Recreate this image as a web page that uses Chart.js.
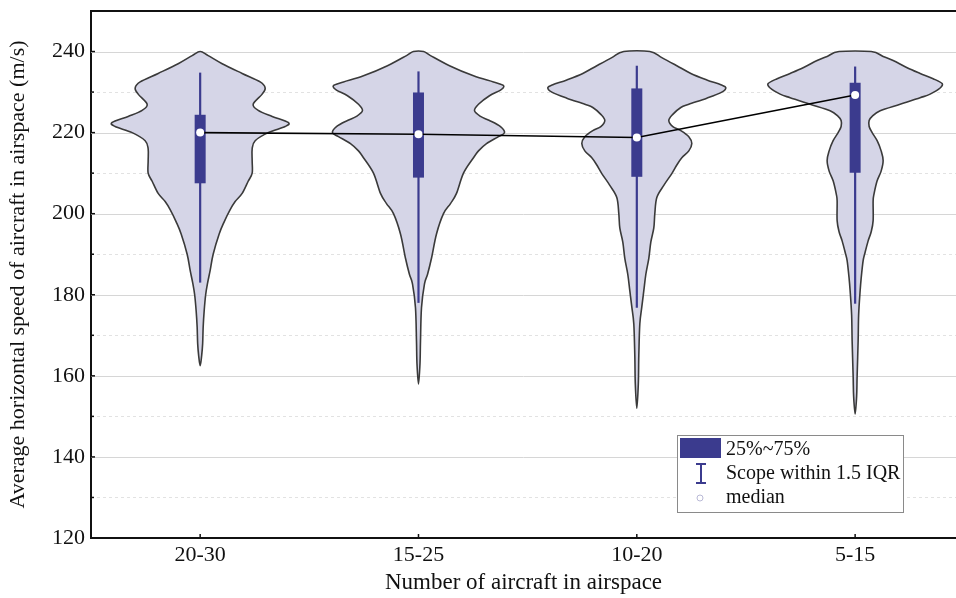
<!DOCTYPE html>
<html>
<head>
<meta charset="utf-8">
<script src="https://cdn.jsdelivr.net/npm/chart.js@4.4.1/dist/chart.umd.min.js"></script>
<style>
  html, body { margin: 0; padding: 0; background: #fff; }
</style>
</head>
<body>
<canvas id="violinChart" width="956" height="598"></canvas>
<script>
const categories = ['20-30', '15-25', '10-20', '5-15'];
const medians = [220, 219.6, 218.8, 229.3];
const q1 = [207.5, 208.9, 209.1, 210.1];
const q3 = [224.4, 229.9, 230.9, 232.3];
const whiskerLow = [183, 178, 176.8, 177.8];
const whiskerHigh = [234.8, 235.1, 236.5, 236.3];

// violin outlines: speed levels (top -> bottom) and relative density at each level
const speeds1 = [240, 239, 237, 234.6, 232.5, 231, 229.5, 227, 225.5, 224, 222.5, 221.5, 220, 218, 216, 213, 210, 208, 205, 203, 201, 198, 195, 190, 186, 183, 180, 176, 172, 168, 165, 162.5];
const density1 = [0, 8, 22, 42, 60, 65, 62, 53, 58, 72, 88, 85, 68, 55, 52, 52, 52, 48, 42, 35, 30, 24, 19, 13, 10, 7.5, 5.5, 4, 3, 2.5, 1.5, 0];
const speeds2 = [240, 239, 236.5, 234, 232.5, 231.6, 230.5, 229.1, 227, 225.4, 224, 223, 221.5, 220, 219, 217.3, 215.5, 213.8, 210, 205, 202.5, 200, 195, 189, 185, 182.7, 176.8, 168.6, 163, 158];
const density2 = [5, 12, 31, 55, 75, 85, 82, 71, 60, 56, 62, 71, 82, 86, 80, 68, 60, 55, 45, 38, 32, 25, 18, 13, 9, 6, 3, 2, 1.5, 0];
const speeds3 = [240, 238.5, 236.5, 234.6, 233, 231.8, 231.1, 230, 228.5, 227, 226.2, 224.5, 223, 221.5, 220.5, 219, 217.3, 215.5, 213.8, 212, 209.9, 207, 204, 200, 196.5, 193, 189, 185, 181, 177, 172.8, 165, 158, 152];
const density3 = [13, 25, 40, 54, 70, 84, 89, 85, 70, 52, 44, 36, 32, 36, 44, 52, 55, 52, 45, 40, 35, 27, 20, 18, 17, 14, 12, 9, 7, 5, 3, 2, 1.5, 0];
const speeds4 = [240, 238.8, 237.8, 236, 234.6, 233.3, 232.1, 231, 229.5, 228.6, 227, 225.4, 224, 223, 221.5, 220, 218, 215.5, 213.1, 210.5, 208.1, 205, 203.2, 198.3, 195.5, 193.3, 190.5, 188.4, 184, 181, 175, 168.6, 160, 155, 150.6];
const density4 = [16, 28, 38, 52, 65, 78, 87, 85, 75, 65, 45, 25, 17, 14, 14, 17, 22, 26, 28, 26, 22, 19, 18, 18, 16, 13, 10, 8, 6, 5, 3.5, 3, 2, 1.5, 0];

const violinSpeeds = [speeds1, speeds2, speeds3, speeds4];
const violinDensity = [density1, density2, density3, density4];

const legendLabels = ['25%~75%', 'Scope within 1.5 IQR', 'median'];

const serif = "'Liberation Serif', 'Times New Roman', serif";
const boxColor = '#3b3b8e';
const violinFill = '#d5d5e7';
const densityToWidth = 1 / 218.3;

function smoothClosedPath(ctx, pts) {
  const n = pts.length;
  ctx.beginPath();
  ctx.moveTo(pts[0][0], pts[0][1]);
  for (let i = 0; i < n; i++) {
    const p0 = pts[(i - 1 + n) % n], p1 = pts[i], p2 = pts[(i + 1) % n], p3 = pts[(i + 2) % n];
    const c1x = p1[0] + (p2[0] - p0[0]) / 6, c1y = p1[1] + (p2[1] - p0[1]) / 6;
    const c2x = p2[0] - (p3[0] - p1[0]) / 6, c2y = p2[1] - (p3[1] - p1[1]) / 6;
    ctx.bezierCurveTo(c1x, c1y, c2x, c2y, p2[0], p2[1]);
  }
  ctx.closePath();
}

const violinPlugin = {
  id: 'violins',
  beforeDatasetsDraw: (chart) => {
    const { ctx, chartArea, scales: { x, y } } = chart;
    ctx.save();

    // grid lines
    for (let v = 130; v <= 240; v += 10) {
      const py = Math.round(y.getPixelForValue(v)) + 0.5;
      ctx.beginPath();
      if (v % 20 === 0) {
        ctx.setLineDash([]);
        ctx.strokeStyle = '#d6d6d6';
      } else {
        ctx.setLineDash([3, 3]);
        ctx.strokeStyle = '#e2e2e2';
      }
      ctx.lineWidth = 1;
      ctx.moveTo(chartArea.left, py);
      ctx.lineTo(chartArea.right, py);
      ctx.stroke();
    }
    ctx.setLineDash([]);

    // violins
    violinSpeeds.forEach((speeds, i) => {
      const c = i + 1;
      const dens = violinDensity[i];
      const right = [], left = [];
      speeds.forEach((s, j) => {
        const w = dens[j] * densityToWidth;
        right.push([x.getPixelForValue(c + w), y.getPixelForValue(s)]);
        left.push([x.getPixelForValue(c - w), y.getPixelForValue(s)]);
      });
      const leftRev = left.slice().reverse();
      // drop duplicate tip points
      if (dens[dens.length - 1] === 0) leftRev.shift();
      if (dens[0] === 0) leftRev.pop();
      const pts = right.concat(leftRev);
      smoothClosedPath(ctx, pts);
      ctx.fillStyle = violinFill;
      ctx.fill();
      ctx.strokeStyle = '#3a3a3a';
      ctx.lineWidth = 1.6;
      ctx.stroke();
    });

    // whiskers and boxes
    categories.forEach((_, i) => {
      const cx = x.getPixelForValue(i + 1);
      ctx.strokeStyle = boxColor;
      ctx.lineWidth = 2.2;
      ctx.beginPath();
      ctx.moveTo(cx, y.getPixelForValue(whiskerHigh[i]));
      ctx.lineTo(cx, y.getPixelForValue(whiskerLow[i]));
      ctx.stroke();
      const top = y.getPixelForValue(q3[i]);
      const bottom = y.getPixelForValue(q1[i]);
      ctx.fillStyle = boxColor;
      ctx.fillRect(cx - 5.5, top, 11, bottom - top);
    });
    ctx.restore();
  },
  afterDraw: (chart) => {
    const { ctx, chartArea, scales: { x, y } } = chart;
    ctx.save();
    ctx.strokeStyle = '#111';
    // top frame line
    ctx.lineWidth = 2;
    ctx.beginPath();
    ctx.moveTo(chartArea.left - 1, chartArea.top);
    ctx.lineTo(chartArea.right, chartArea.top);
    ctx.stroke();
    // inside tick marks
    ctx.lineWidth = 1.5;
    for (let v = 130; v <= 240; v += 10) {
      const py = y.getPixelForValue(v);
      ctx.beginPath();
      ctx.moveTo(chartArea.left, py);
      ctx.lineTo(chartArea.left + (v % 20 === 0 ? 4 : 3), py);
      ctx.stroke();
    }
    categories.forEach((_, i) => {
      const px = x.getPixelForValue(i + 1);
      ctx.beginPath();
      ctx.moveTo(px, chartArea.bottom);
      ctx.lineTo(px, chartArea.bottom - 4);
      ctx.stroke();
    });

    // legend
    const lx = 677, ly = 435, lw = 226, lh = 77;
    ctx.fillStyle = '#fff';
    ctx.fillRect(lx, ly, lw, lh);
    ctx.strokeStyle = '#8a8a8a';
    ctx.lineWidth = 1;
    ctx.strokeRect(lx + 0.5, ly + 0.5, lw, lh);
    ctx.fillStyle = boxColor;
    ctx.fillRect(lx + 3, ly + 3, 41, 20);
    ctx.strokeStyle = boxColor;
    ctx.lineWidth = 2;
    ctx.beginPath();
    ctx.moveTo(lx + 24, ly + 29);
    ctx.lineTo(lx + 24, ly + 48);
    ctx.moveTo(lx + 19, ly + 29);
    ctx.lineTo(lx + 29, ly + 29);
    ctx.moveTo(lx + 19, ly + 48);
    ctx.lineTo(lx + 29, ly + 48);
    ctx.stroke();
    ctx.strokeStyle = '#b9b9d6';
    ctx.lineWidth = 1;
    ctx.beginPath();
    ctx.arc(lx + 23, ly + 63, 3, 0, Math.PI * 2);
    ctx.stroke();
    ctx.fillStyle = '#111';
    ctx.font = '20px ' + serif;
    ctx.textBaseline = 'middle';
    ctx.textAlign = 'left';
    ctx.fillText(legendLabels[0], lx + 49, ly + 15);
    ctx.fillText(legendLabels[1], lx + 49, ly + 39);
    ctx.fillText(legendLabels[2], lx + 49, ly + 63);
    ctx.restore();
  }
};

const chartCtx = document.getElementById('violinChart').getContext('2d');

const violinChart = new Chart(chartCtx, {
  type: 'line',
  data: {
    datasets: [{
      label: 'median',
      data: medians.map((m, i) => ({ x: i + 1, y: m })),
      borderColor: '#000',
      borderWidth: 1.6,
      tension: 0,
      pointRadius: 4,
      pointBackgroundColor: '#fff',
      pointBorderColor: '#fff',
      pointBorderWidth: 0
    }]
  },
  options: {
    responsive: false,
    animation: false,
    layout: { autoPadding: false, padding: { top: 11, left: 0, right: 0, bottom: 0 } },
    scales: {
      x: {
        type: 'linear',
        min: 0.5,
        max: 4.462,
        afterBuildTicks: (axis) => {
          axis.ticks = categories.map((_, i) => ({ value: i + 1 }));
        },
        afterFit: (scale) => {
          scale.height = 60;
          scale.paddingLeft = 0;
          scale.paddingRight = 0;
        },
        grid: { display: false, drawTicks: false },
        border: { display: true, color: '#111', width: 2 },
        ticks: {
          autoSkip: false,
          maxRotation: 0,
          padding: 4,
          color: '#111',
          font: { family: serif, size: 22 },
          callback: (v) => categories[v - 1]
        },
        title: {
          display: true,
          text: 'Number of aircraft in airspace',
          color: '#111',
          font: { family: serif, size: 23 },
          padding: { top: 0, bottom: 1 }
        }
      },
      y: {
        min: 120,
        max: 250,
        afterFit: (scale) => {
          scale.width = 91;
          scale.paddingTop = 0;
          scale.paddingBottom = 0;
        },
        grid: { display: false, drawTicks: false },
        border: { display: true, color: '#111', width: 2 },
        ticks: {
          stepSize: 10,
          padding: 6,
          color: '#111',
          font: { family: serif, size: 22 },
          callback: (v) => (v % 20 === 0 && v < 250 ? v : '')
        },
        title: {
          display: true,
          text: 'Average horizontal speed of aircraft in airspace (m/s)',
          color: '#111',
          font: { family: serif, size: 22 },
          padding: { top: 5, bottom: 0 }
        }
      }
    },
    plugins: {
      legend: { display: false },
      tooltip: { enabled: false }
    }
  },
  plugins: [violinPlugin]
});
</script>
</body>
</html>
